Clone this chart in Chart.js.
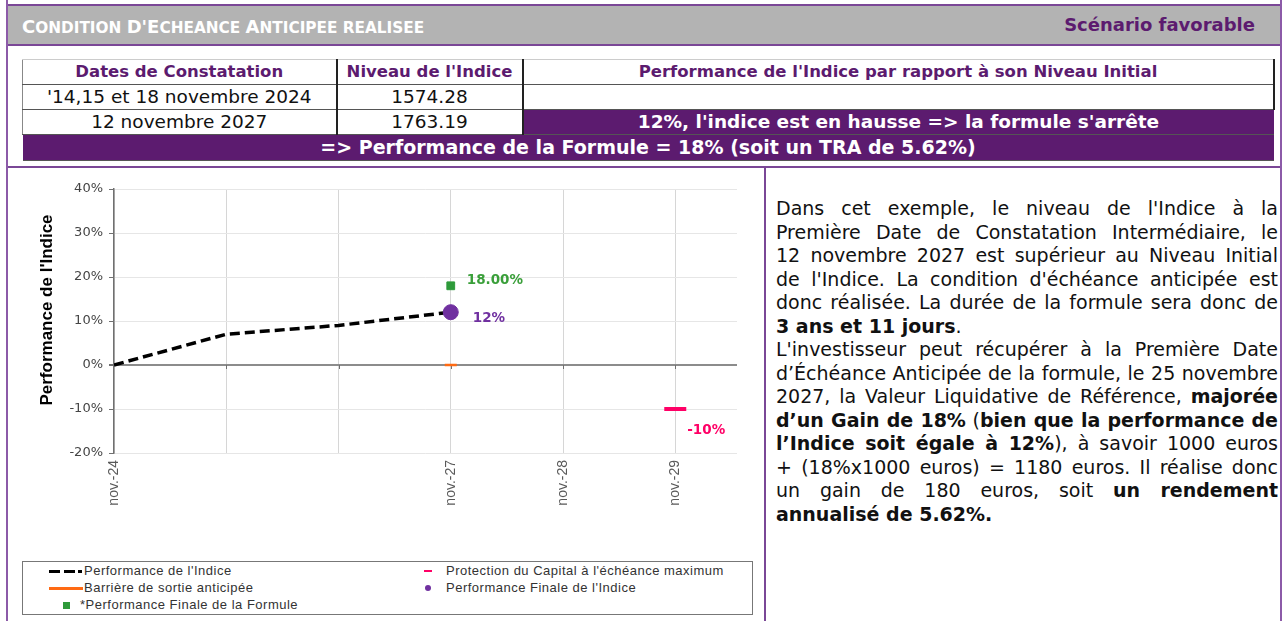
<!DOCTYPE html>
<html lang="fr">
<head>
<meta charset="utf-8">
<script src="https://cdn.jsdelivr.net/npm/chart.js@4.4.1/dist/chart.umd.min.js"></script>
<style>
  body { margin: 0; width: 1284px; height: 621px; background: #fff; position: relative; overflow: hidden;
         font-family: "DejaVu Sans", Verdana, sans-serif; color: #111; }
  .vline { position: absolute; top: 0; width: 2px; height: 621px; background: #8c5aa8; }
  .header { position: absolute; left: 8px; top: 4px; width: 1272px; height: 38px; background: #b3b3b3;
            border-top: 2px solid #7a4796; border-bottom: 2px solid #7a4796; }
  .header .title { position: absolute; left: 14px; top: 10px; color: #fff; font-weight: bold; font-size: 15.3px; }
  .header .title .cap { font-size: 18px; }
  .header .scen { position: absolute; right: 25px; top: 8px; color: #5c1b6f; font-weight: bold; font-size: 18px; }
  table.obs { position: absolute; left: 22px; top: 59px; width: 1251px; border-collapse: collapse; table-layout: fixed; }
  table.obs td { height: 24px; line-height: 24px; padding: 0; text-align: center; font-size: 18.5px; white-space: nowrap;
                 border-bottom: 1px solid #555; overflow: hidden; }
  table.obs tr.head td { color: #5c1b6f; font-weight: bold; font-size: 16.5px; border-top: 1px solid #ccc; }
  table.obs td.sep { border-right: 2px solid #222; }
  table.obs td.first { border-left: 1px solid #888; }
  table.obs td.last { border-right: 2px solid #222; }
  table.obs td.purple { background: #5c1b6f; color: #fff; font-weight: bold; font-size: 18.5px; }
  table.obs tr.res td { background: #5c1b6f; color: #fff; font-weight: bold; font-size: 19px; height: 25px; line-height: 25px; }
  .hline { position: absolute; left: 8px; top: 166px; width: 1272px; height: 2px; background: #7a4796; }
  .mid { position: absolute; left: 764px; top: 166px; width: 2px; height: 455px; background: #7a4796; }
  #chartBox { position: absolute; left: 9px; top: 168px; width: 755px; height: 392px; }
  .legend { position: absolute; left: 22px; top: 561px; width: 729px; height: 52px; border: 1px solid #777;
            font-family: "Liberation Sans", Arial, sans-serif; font-size: 13px; letter-spacing: 0.5px; color: #333; }
  .legend .item { position: absolute; height: 16px; line-height: 16px; white-space: nowrap; }
  .legend .sym { position: absolute; }
  .text { position: absolute; left: 776px; top: 197px; width: 502px; font-size: 19px; line-height: 23.5px; color: #111; }
  .text div { text-align: justify; text-align-last: justify; white-space: nowrap; }
  .text div.end { text-align-last: left; }
</style>
</head>
<body>
<div class="vline" style="left:6px"></div>
<div class="vline" style="left:1280px"></div>
<div class="header">
  <div class="title"><span class="cap">C</span>ONDITION <span class="cap">D'E</span>CHEANCE <span class="cap">A</span>NTICIPEE REALISEE</div>
  <div class="scen">Scénario favorable</div>
</div>
<table class="obs">
  <colgroup><col style="width:314px"><col style="width:186px"><col style="width:751px"></colgroup>
  <tr class="head"><td class="first sep">Dates de Constatation</td><td class="sep">Niveau de l'Indice</td><td class="last">Performance de l'Indice par rapport à son Niveau Initial</td></tr>
  <tr><td class="first sep">'14,15 et 18 novembre 2024</td><td class="sep">1574.28</td><td class="last"></td></tr>
  <tr><td class="first sep">12 novembre 2027</td><td class="sep">1763.19</td><td class="purple">12%, l'indice est en hausse =&gt; la formule s'arrête</td></tr>
  <tr class="res"><td colspan="3">=&gt; Performance de la Formule = 18% (soit un TRA de 5.62%)</td></tr>
</table>
<div class="hline"></div>
<div class="mid"></div>
<div id="chartBox"><canvas id="perfChart"></canvas></div>
<div class="legend" id="legend"></div>
<div class="text">
  <div>Dans cet exemple, le niveau de l'Indice à la</div>
  <div>Première Date de Constatation Intermédiaire, le</div>
  <div>12 novembre 2027 est supérieur au Niveau Initial</div>
  <div>de l'Indice. La condition d'échéance anticipée est</div>
  <div>donc réalisée. La durée de la formule sera donc de</div>
  <div class="end"><b>3 ans et 11 jours</b>.</div>
  <div>L'investisseur peut récupérer à la Première Date</div>
  <div>d’Échéance Anticipée de la formule, le 25 novembre</div>
  <div>2027, la Valeur Liquidative de Référence, <b>majorée</b></div>
  <div><b>d’un Gain de 18%</b> (<b>bien que la performance de</b></div>
  <div><b>l’Indice soit égale à 12%</b>), à savoir 1000 euros</div>
  <div>+ (18%x1000 euros) = 1180 euros. Il réalise donc</div>
  <div>un gain de 180 euros, soit <b>un rendement</b></div>
  <div class="end"><b>annualisé de 5.62%.</b></div>
</div>
<script>
// observation years (x) and index performance in %
const indexYears = [2024, 2025, 2026, 2027];
const indexPerf = [0, 7, 9, 12];

const barrierPoint = [{ x: 2027, y: 0 }];
const protectionPoint = [{ x: 2029, y: -10 }];
const finalIndexPoint = [{ x: 2027, y: 12 }];
const finalFormulaPoint = [{ x: 2027, y: 18 }];

const xTickValues = [2024, 2025, 2026, 2027, 2028, 2029];
const xTickLabels = ['nov.-24', '', '', 'nov.-27', 'nov.-28', 'nov.-29'];
const yTickValues = [-20, -10, 0, 10, 20, 30, 40];

const purple = '#7030a0';
const green = '#2e9a3a';
const pink = '#ff0066';
const orange = '#ff6a13';

// value next to the markers, small ticks on the 0% line, y title (Excel puts it a bit above the middle)
const extras = {
  id: 'extras',
  beforeDatasetsDraw(chart) {
    const ctx = chart.ctx;
    const x = chart.scales.x;
    const y0 = chart.scales.y.getPixelForValue(0);
    ctx.save();
    ctx.strokeStyle = '#707070';
    ctx.lineWidth = 1;
    xTickValues.slice(1).forEach((v) => {
      const px = Math.round(x.getPixelForValue(v)) + 0.5;
      ctx.beginPath();
      ctx.moveTo(px, y0);
      ctx.lineTo(px, y0 + 4);
      ctx.stroke();
    });
    ctx.restore();
  },
  afterDatasetsDraw(chart) {
    const ctx = chart.ctx;
    chart.data.datasets.forEach((ds, i) => {
      if (!ds.valueLabel) return;
      const meta = chart.getDatasetMeta(i);
      const pt = meta.data[meta.data.length - 1];
      ctx.save();
      ctx.font = 'bold 13.5px "DejaVu Sans"';
      ctx.fillStyle = ds.labelColor;
      ctx.textBaseline = 'middle';
      ctx.fillText(ds.valueLabel, pt.x + ds.labelDx, pt.y + ds.labelDy);
      ctx.restore();
    });
    const area = chart.chartArea;
    ctx.save();
    ctx.translate(38, (area.top + area.bottom) / 2 - 11);
    ctx.rotate(-Math.PI / 2);
    ctx.font = 'bold 17px "Liberation Sans"';
    ctx.fillStyle = '#000';
    ctx.textAlign = 'center';
    ctx.textBaseline = 'middle';
    ctx.fillText("Performance de l'Indice", 0, 0);
    ctx.restore();
  }
};

const ctx = document.getElementById('perfChart').getContext('2d');
new Chart(ctx, {
  type: 'line',
  data: {
    datasets: [
      {
        label: "Performance de l'Indice",
        data: indexYears.map((x, i) => ({ x: x, y: indexPerf[i] })),
        borderColor: '#000',
        borderWidth: 3.5,
        borderDash: [10, 5],
        pointRadius: 0,
        tension: 0,
        order: 5,
      },
      {
        label: 'Barrière de sortie anticipée',
        data: barrierPoint,
        showLine: false,
        pointStyle: 'line',
        pointRadius: 6,
        pointBorderWidth: 2.5,
        pointBorderColor: orange,
        order: 4,
      },
      {
        label: "Protection du Capital à l'échéance maximum",
        data: protectionPoint,
        showLine: false,
        pointStyle: 'line',
        pointRadius: 11,
        pointBorderWidth: 4,
        pointBorderColor: pink,
        order: 3,
        valueLabel: '-10%',
        labelColor: pink,
        labelDx: 12,
        labelDy: 21,
      },
      {
        label: "Performance Finale de l'Indice",
        data: finalIndexPoint,
        showLine: false,
        pointStyle: 'circle',
        pointRadius: 7.5,
        pointBackgroundColor: purple,
        pointBorderColor: purple,
        order: 1,
        valueLabel: '12%',
        labelColor: purple,
        labelDx: 22,
        labelDy: 6,
      },
      {
        label: '*Performance Finale de la Formule',
        data: finalFormulaPoint,
        showLine: false,
        pointStyle: 'rect',
        pointRadius: 5.5,
        pointBackgroundColor: green,
        pointBorderColor: green,
        order: 2,
        valueLabel: '18.00%',
        labelColor: '#3a9f3a',
        labelDx: 16,
        labelDy: -5,
      },
    ],
  },
  options: {
    responsive: true,
    maintainAspectRatio: false,
    animation: false,
    layout: { padding: { top: 21, right: 27, left: 0, bottom: 0 } },
    plugins: {
      legend: { display: false },
      tooltip: { enabled: false },
    },
    scales: {
      x: {
        type: 'linear',
        min: 2024,
        max: 2029.55,
        afterBuildTicks: (s) => { s.ticks = xTickValues.map((v) => ({ value: v })); },
        afterFit: (s) => { s.height = 107; },
        ticks: {
          autoSkip: false,
          minRotation: 90,
          maxRotation: 90,
          padding: 7,
          color: '#595959',
          font: { family: 'Liberation Sans', size: 14 },
          callback: (v) => xTickLabels[xTickValues.indexOf(v)],
        },
        grid: { color: '#d6d6d6', drawTicks: false },
        border: { display: false },
      },
      y: {
        min: -20,
        max: 40,
        afterBuildTicks: (s) => { s.ticks = yTickValues.map((v) => ({ value: v })); },
        afterFit: (s) => { s.width = 105; },
        ticks: {
          padding: 6,
          color: '#454545',
          font: { family: 'DejaVu Sans', size: 13 },
          callback: (v) => v + '%',
        },
        grid: {
          color: (c) => (c.tick && c.tick.value === 0 ? '#8c8c8c' : '#e6e6e6'),
          lineWidth: (c) => (c.tick && c.tick.value === 0 ? 2 : 1),
          tickLength: 5,
          tickColor: '#707070',
        },
        border: { color: '#707070', width: 1.5 },
      },
    },
  },
  plugins: [extras],
});

// legend built as html, same layout as the reference
const legendItems = [
  { text: "Performance de l'Indice", sym: 'dash', left: 26, top: 1, textLeft: 61 },
  { text: 'Barrière de sortie anticipée', sym: 'orange', left: 26, top: 18, textLeft: 61 },
  { text: '*Performance Finale de la Formule', sym: 'square', left: 40, top: 35, textLeft: 57 },
  { text: "Protection du Capital à l'échéance maximum", sym: 'pink', left: 400, top: 1, textLeft: 423 },
  { text: "Performance Finale de l'Indice", sym: 'dot', left: 400, top: 18, textLeft: 423 },
];
const symHtml = {
  dash: '<span class="sym" style="left:0;top:7px;width:11px;height:3px;background:#000"></span>' +
        '<span class="sym" style="left:15px;top:7px;width:11px;height:3px;background:#000"></span>' +
        '<span class="sym" style="left:29px;top:7px;width:4px;height:3px;background:#000"></span>',
  orange: '<span class="sym" style="left:0;top:7px;width:34px;height:3px;background:' + orange + '"></span>',
  square: '<span class="sym" style="left:0;top:5px;width:7px;height:7px;background:' + green + '"></span>',
  pink: '<span class="sym" style="left:1px;top:7px;width:8px;height:2px;background:' + pink + '"></span>',
  dot: '<span class="sym" style="left:2px;top:5px;width:6px;height:6px;border-radius:3px;background:' + purple + '"></span>',
};
const legendEl = document.getElementById('legend');
legendItems.forEach((it) => {
  const d = document.createElement('div');
  d.className = 'item';
  d.style.left = it.left + 'px';
  d.style.top = it.top + 'px';
  d.innerHTML = symHtml[it.sym] + '<span style="position:absolute;left:' + (it.textLeft - it.left) + 'px">' + it.text + '</span>';
  legendEl.appendChild(d);
});
</script>
</body>
</html>
